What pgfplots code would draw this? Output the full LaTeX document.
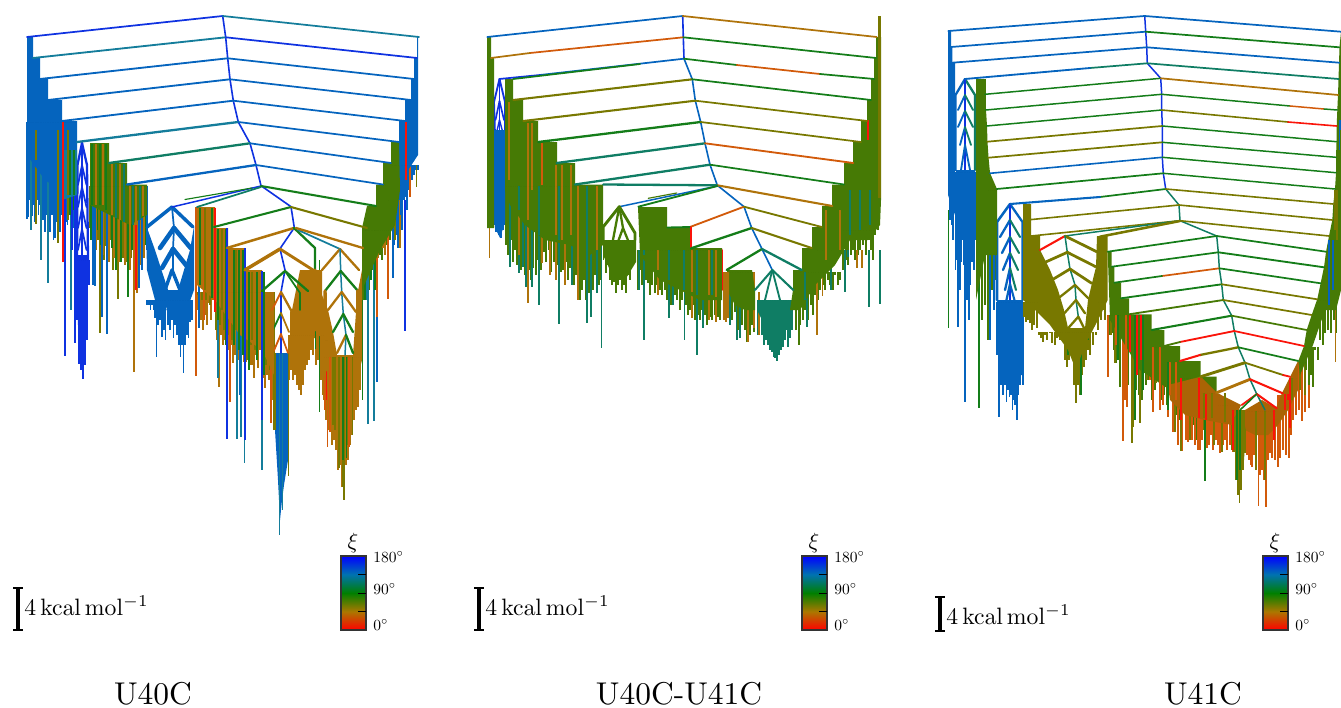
\documentclass[border=0pt]{standalone}
\usepackage{pgfplots}
\pgfplotsset{compat=1.18}
\definecolor{bl}{RGB}{15,50,225}
\definecolor{sb}{RGB}{5,100,190}
\definecolor{tl}{RGB}{20,125,155}
\definecolor{gt}{RGB}{15,125,100}
\definecolor{gr}{RGB}{20,125,25}
\definecolor{og}{RGB}{70,122,5}
\definecolor{ol}{RGB}{120,120,0}
\definecolor{br}{RGB}{175,115,10}
\definecolor{or}{RGB}{210,90,10}
\definecolor{om}{RGB}{170,100,5}
\definecolor{rd}{RGB}{250,20,10}
\pgfdeclareverticalshading{xibar}{100bp}{rgb(0bp)=(1,0,0); rgb(25bp)=(1,0,0); rgb(37.5bp)=(.67,.47,0); rgb(50bp)=(0,.5,0); rgb(62.5bp)=(0,.45,.69); rgb(75bp)=(0,0,1); rgb(100bp)=(0,0,1)}
\newcommand{\seg}[3]{\addplot[#1,line width=1.15*#2pt,line cap=round,line join=round,forget plot,mark=none] coordinates {#3};}
\newcommand{\pol}[2]{\addplot[fill=#1,draw=none,forget plot,mark=none] coordinates {#2} -- cycle;}
\newcommand{\cmb}[4]{\addplot[only marks,mark=*,mark size=0pt,mark options={draw=none,fill=none},forget plot,error bars/.cd,y dir=plus,y explicit,error mark=none,error bar style={solid,draw=#1,line width=#2pt}] table[row sep=\\,x=x,y expr=#3,y error expr=\thisrow{b}-#3] {x b\\ #4};}
\newcommand{\deco}[4]{%
\addplot[black,line width=3.2pt,forget plot] coordinates {(#1,#2)(#1,#3)};
\addplot[black,line width=2.4pt,forget plot] coordinates {(#1-5,#2)(#1+5,#2)};
\addplot[black,line width=2.4pt,forget plot] coordinates {(#1-5,#3)(#1+5,#3)};
\shade[shading=xibar] (axis cs:#4,556) rectangle (axis cs:#4+25,630);
\draw[black!80,line width=1.2pt] (axis cs:#4,556) rectangle (axis cs:#4+25,630);
\addplot[black,line width=.9pt,forget plot] coordinates {(#4+17,574)(#4+25,574)};
\addplot[black,line width=.9pt,forget plot] coordinates {(#4+17,593)(#4+25,593)};
\addplot[black,line width=.9pt,forget plot] coordinates {(#4+17,611)(#4+25,611)};
\node[scale=2.2] at (axis cs:#4+12,543) {$\xi$};
\node[anchor=west,inner sep=0,scale=1.55] at (axis cs:#4+32,557) {$180^\circ$};
\node[anchor=west,inner sep=0,scale=1.55] at (axis cs:#4+32,589) {$90^\circ$};
\node[anchor=west,inner sep=0,scale=1.55] at (axis cs:#4+32,625) {$0^\circ$};
}
\newcommand{\kcal}{$4\,\mathrm{kcal\,mol^{-1}}$}
\begin{document}
\begin{tikzpicture}[x=1pt,y=1pt]
\begin{axis}[scale only axis,width=1341pt,height=707pt,xmin=0,xmax=1341,ymin=0,ymax=707,y dir=reverse,hide axis,clip=true]
\path (axis cs:0,0) rectangle (axis cs:1341,707);
%%%%%%%%%% PANEL 1 U40C
% fingers left
\cmb{sb}{1.6}{122}{27 219\\28.5 217\\30 200\\32 216\\33.5 205\\35 222\\37 200\\38.5 215\\40 205\\43 220\\45 232\\47 215\\50 232\\52 215\\53.5 240\\55 238\\57 222\\60 232\\61.5 215\\64 215\\66 222\\67.5 225\\69 210\\73 228\\75 222\\}
\cmb{tl}{1.3}{122}{31 230\\41 260\\48 283\\71 310\\}
\cmb{ol}{1.3}{122}{36 224\\58 243\\68 220\\}
\cmb{gr}{1.2}{122}{70 215\\74 210\\}
\cmb{rd}{1.3}{122}{63 262\\}
\cmb{bl}{1.5}{122}{65 356\\65.5 308\\75 343\\72 250\\}
\cmb{bl}{1.5}{260}{77 320\\79 364\\81 370\\83 379\\85 365\\87 340\\89 285\\}
\cmb{ol}{1.5}{186}{90 228\\92.5 236\\98 240\\100 333\\104 260\\106 246\\110 240\\113 270\\118 299\\123 258\\126 262\\131 258\\135 250\\138 262\\143 255\\146 238\\}
\cmb{gr}{1.5}{186}{91 240\\94 232\\97 230\\101 245\\108 250\\112 248\\116 270\\121 262\\128 297\\132 250\\140 255\\145 245\\}
\cmb{br}{1.4}{186}{96 250\\103 255\\109 262\\114 258\\119 262\\125 265\\130 270\\134 372\\137 293\\141 265\\144 258\\}
\cmb{sb}{1.3}{186}{93 285\\95 286\\102 317\\107 334\\139 288\\142 270\\147 250\\}
\cmb{rd}{1.3}{186}{136 290\\}
% blue funnel
\seg{bl}{2}{(82,143)(77.5,165)(77,260)}
\seg{bl}{2}{(82,143)(87,165)(88,260)}
\seg{bl}{1.3}{(82,143)(82,260)}
\seg{bl}{1.5}{(82,165)(78,185)} \seg{bl}{1.5}{(82,165)(86.5,185)}
\seg{bl}{1.5}{(82,187)(78,207)} \seg{bl}{1.5}{(82,187)(86.5,207)}
\seg{bl}{1.5}{(82,208)(78,228)} \seg{bl}{1.5}{(82,208)(86.5,228)}
\seg{bl}{1.5}{(82,229)(78,250)} \seg{bl}{1.5}{(82,229)(86.5,250)}
% subtree 1
\cmb{sb}{1.6}{300}{147 305\\149 305\\150.5 310\\152 305\\153.5 310\\155 318\\156.5 357\\158 325\\160 320\\162 337\\164 330\\165.5 340\\168 325\\170 330\\172 320\\173.5 338\\175 325\\177 335\\179 345\\180.5 357\\182 345\\183.5 373\\185 345\\187 335\\188.5 338\\190 322\\192 320\\}
% middle
\cmb{br}{1.5}{292}{197 310\\199 300\\201 320\\203 330\\205 315\\207 325\\209 303\\211 320\\213 300\\217 340\\219 387\\221 335\\223 345\\225 340\\229 350\\231 345\\233 363\\235 355\\236 350\\238 360\\242 345\\244 362\\246 362\\248 350\\250 365\\252 365\\254 378\\256 355\\258 368\\260 350\\263 378\\265 388\\267 375\\269 380\\271 423\\273 400\\}
\cmb{ol}{1.4}{292}{198 295\\202 300\\206 300\\210 305\\216 330\\220 325\\224 330\\228 335\\232 340\\237 345\\241 350\\247 360\\251 345\\255 350\\259 345\\262 360\\266 365\\270 370\\274 430\\}
\cmb{or}{1.3}{207}{196 376\\}
\cmb{sb}{1.3}{207}{199 328\\}
\cmb{tl}{1.3}{229}{218 378\\}
\cmb{tl}{1.3}{250}{237 439\\241 437\\}
\cmb{or}{1.3}{248}{230 402\\}
\cmb{sb}{1.3}{248}{240 395\\}
\cmb{or}{1.3}{300}{271 423\\}
% central
\cmb{br}{1.5}{335}{289 380\\291 370\\293 380\\295 375\\297 385\\299 390\\301 395\\303 385\\305 370\\307 365\\309 360\\311 350\\313 355\\316 365\\318 360\\321 380\\323 395\\}
\cmb{br}{1.5}{357}{324 400\\326 420\\328 430\\330 432\\332 445\\334 440\\336 450\\338 470\\340 465\\342 487\\344 500\\346 465\\348 460\\350 445\\352 435\\354 420\\356 410\\358 407\\360 390\\}
\cmb{gr}{1.3}{260}{319.3 412\\362.3 400\\}
\cmb{or}{1.3}{340}{325 410\\327.3 447\\}
% right of P1
\cmb{og}{1.4}{230}{363 300\\365 285\\367 275\\369 290\\372 270\\374 285\\376 265\\378 258\\380 255\\382 260\\384 248\\386 245\\388 250\\390 240\\}
\cmb{tl}{1.3}{230}{368 424\\374 421\\366 300\\}
\cmb{sb}{1.3}{230}{377 382\\393 278\\}
\cmb{gr}{1.3}{230}{365 300\\371 280\\375 290\\}
\cmb{or}{1.3}{200}{377 317\\388 299\\}
\cmb{bl}{1.4}{200}{405 331\\}
\cmb{br}{1.3}{185}{378 258\\383 248\\400 248\\385 255\\}
\cmb{sb}{1.6}{165}{392 230\\394 245\\396 235\\398 248\\399 200\\401 215\\402 230\\404 200\\405 197\\407 210\\409 190\\412 180\\414 175\\416 170\\418 170\\}
\cmb{ol}{1.3}{165}{395 240\\416.7 187\\}
\cmb{or}{1.3}{150}{410 197\\}
% solid masses over the finger roots
\pol{sb}{(27,37)(33,37)(33,58)(40,58)(40,79)(48,79)(48,100)(62,100)(62,121)(77,121)(77,185)(60,190)(45,180)(27,155)}
\pol{tl}{(62,150)(77,150)(77,195)(62,200)}
\pol{og}{(90,143)(109,143)(109,163)(127,163)(127,184.5)(147,184.5)(147,215)(130,225)(110,215)(90,205)}
\pol{bl}{(76,255)(88,255)(87,325)(85,350)(83,365)(81,350)(78,325)}
\pol{sb}{(146,225)(155,250)(168,290)(178,290)(190,250)(194,226)(194,290)(185,315)(170,310)(155,300)(147,270)}
\pol{br}{(197,207)(215,207)(215,228)(228,228)(228,248)(245,248)(245,270)(262,270)(262,292)(274,292)(274,375)(262,350)(240,335)(215,300)(197,285)}
\pol{br}{(290,320)(300,270)(312,270)(322,270)(322,335)(310,340)(302,370)(294,355)}
\pol{br}{(320,290)(328,310)(333,332)(337,355)(353,355)(356,312)(358,291)(362,270)(362,360)(352,400)(347,430)(344,450)(340,430)(330,400)(322,365)}
\pol{sb}{(275,353)(288,353)(288,460)(284,485)(282,500)(280,520)(278,480)(275,430)}
\pol{sb}{(418,37)(417,37)(417,58)(414,58)(414,79)(411,79)(411,100)(405,100)(405,121)(399,121)(399,165)(405,175)(418,155)}
\pol{og}{(399,142)(391,142)(391,163)(383,163)(383,184.5)(376,184.5)(376,206)(367,206)(362,228)(362,290)(380,250)(395,225)(400,190)}
% streaks over the masses
\cmb{rd}{1.3}{122}{63 200\\406 180\\}
\cmb{ol}{1.3}{130}{58 190\\36 160\\68 195\\}
\cmb{gr}{1.2}{150}{74 195\\70 195\\}
\cmb{gr}{1.3}{144}{92 205\\100 205\\106 210\\}
\cmb{br}{1.3}{144}{96 205\\103 205\\}
\cmb{br}{1.3}{164}{112 215\\120 220\\}
\cmb{gt}{1.3}{164}{116 218\\124 222\\}
\cmb{br}{1.3}{186}{130 225\\136 225\\143 216\\}
\cmb{gt}{1.3}{186}{133 225\\140 220\\}
\cmb{gr}{1.3}{208}{200 285\\212 298\\}
\cmb{or}{1.3}{208}{204 320\\}
\cmb{ol}{1.3}{208}{205 290\\}
\cmb{gr}{1.3}{229}{218 320\\226 345\\}
\cmb{ol}{1.3}{229}{222 310\\}
\cmb{rd}{1.3}{208}{215 312\\}
\cmb{gr}{1.3}{250}{234 345\\239 350\\243 355\\}
\cmb{ol}{1.3}{250}{236 330\\}
\cmb{bl}{2}{228}{227 439\\}
\cmb{tl}{1.3}{248}{244.5 463\\}
\cmb{bl}{1.6}{248}{245 440\\}
\cmb{tl}{1.3}{271}{262 470\\}
\cmb{bl}{1.6}{271}{262 420\\}
\cmb{gr}{1.3}{272}{249 370\\257 360\\264 375\\}
\cmb{ol}{1.3}{272}{252 340\\}
\cmb{tl}{1.3}{353}{279.5 535\\282.7 510\\}
\cmb{ol}{1.3}{353}{288.7 476\\275 430\\}
\cmb{gr}{1.3}{260}{315.7 349\\}
\cmb{ol}{1.3}{357}{339 468\\342.7 487\\344 500\\352.7 435\\335 430\\333 425\\347 445\\}
\cmb{gr}{1.3}{357}{346.7 458\\343 460\\}
\cmb{or}{1.3}{357}{330 432\\349 447\\}
\cmb{rd}{1.2}{340}{326.5 400\\}
% subtree chevrons
\seg{sb}{3}{(172,207)(147,227)}\seg{sb}{3}{(172,207)(193,227)}
\seg{sb}{4}{(174,228)(160,248)}\seg{sb}{4}{(174,228)(190.7,248)}
\seg{sb}{4}{(173,249)(162,268)}\seg{sb}{4}{(173,249)(190,270)}
\seg{sb}{1.5}{(172,207)(174,228)(173,249)(173,270)}
\seg{sb}{3}{(172,270)(165,290)}\seg{sb}{3}{(172,270)(180,290)}
\seg{sb}{3}{(173,293)(168,310)}\seg{sb}{3}{(173,293)(178,310)}
% tree
\seg{bl}{1.4}{(222.7,16)(225.7,37.3)(227.7,58.3)(230,79.3)(233.3,100.7)(238.3,122)(250,143.3)(256,165)(261,185.7)(291,206.7)(294.3,227.7)(280,248.7)(285,270)(281,292)(281,313)(281,334)(281,353)}
\seg{bl}{1.5}{(222.7,16)(27,37)}
\seg{tl}{1.5}{(222.7,16)(419,37)}
\seg{tl}{1.6}{(225.7,37.3)(33,58)}\seg{bl}{1.5}{(225.7,37.3)(417,58)}
\seg{sb}{1.6}{(227.7,58.3)(40,79)}\seg{sb}{1.5}{(227.7,58.3)(414,79)}
\seg{sb}{1.6}{(230,79.3)(48,100)}\seg{sb}{1.5}{(230,79.3)(411,100)}
\seg{sb}{1.6}{(233.3,100.7)(62,121)}\seg{sb}{1.5}{(233.3,100.7)(405,121)}
\seg{tl}{2}{(238.3,122)(77,142)}\seg{sb}{1.5}{(238.3,122)(399,142)}
\seg{gt}{2}{(250,143.3)(109,163)}\seg{sb}{1.5}{(250,143.3)(391,163)}
\seg{sb}{2}{(256,165)(127,184.5)}\seg{sb}{1.5}{(256,165)(383,184.5)}
\seg{bl}{1.3}{(261,186)(172,207)}
\seg{gr}{1}{(252,188)(185,199.5)}
\seg{gt}{1.5}{(261,187)(197,207)}
\seg{gr}{1.8}{(261,186)(376,206)}
\seg{gr}{1.8}{(291,207)(214,227)}\seg{ol}{1.8}{(291,207)(367,228)}
\seg{br}{2.2}{(294,228)(227,248)}
\seg{gr}{2}{(294,228)(315,248)(315,270)}
\seg{tl}{1.5}{(298,230)(340,249)}
\seg{br}{2}{(296,228)(363,248)}
\seg{br}{3}{(280,249)(245,270)}\seg{br}{2.5}{(280,249)(313,270)}
\seg{gr}{2}{(285,271)(262,291)}\seg{gr}{2}{(285,271)(308,291)}
\seg{gr}{1.5}{(285,271)(300,293)(300,310)}
\seg{or}{1.6}{(281,292)(271,312)}\seg{br}{2}{(281,292)(292,312)}
\seg{gr}{1.6}{(281,313)(272,332)}\seg{br}{1.5}{(281,313)(289,332)}
\seg{or}{1.6}{(281,334)(272,355)}\seg{or}{1.5}{(281,334)(288,353)}
\seg{br}{3}{(272,312)(272,355)}\seg{br}{3}{(292,312)(292,340)}
\seg{br}{3}{(315,270)(316,330)}
\seg{br}{2}{(340,249)(322,270)}\seg{br}{2}{(340,249)(359,270)}
\seg{tl}{1.3}{(340,249)(340.7,271)(341.7,292)(343.3,314)(346,335)(345,355)}
\seg{gr}{2}{(340.7,271)(325,291)}\seg{gr}{2}{(340.7,271)(358,291)}
\seg{br}{2}{(341.7,292)(328,310)}\seg{br}{2}{(341.7,292)(356,312)}
\seg{gr}{2}{(343.3,314)(333,332)}\seg{gr}{2}{(343.3,314)(353,332)}
\seg{br}{2}{(346,335)(337,353)}\seg{gr}{2}{(346,335)(353,353)}
\seg{br}{3}{(325,291)(326,370)}\seg{br}{3}{(358,291)(358,370)}
%%%%%%%%%% PANEL 2
% fingers P2
\cmb{gt}{1.3}{200}{487.3 226\\}
\cmb{br}{1.3}{160}{489.5 258\\}
\cmb{sb}{1.5}{130}{494.5 225\\496 232\\497.5 228\\499 235\\501 238\\503 230\\505 225\\}
\cmb{og}{1.5}{186}{506 245\\508 255\\511 240\\513 262\\515 250\\517 265\\520 258\\521 270\\524 255\\525 275\\529 270\\531 280\\533 268\\536 275\\538 260\\541 270\\544 252\\546 262\\549 250\\551 272\\554 262\\556 278\\558 265\\561 272\\563 270\\566 262\\568 280\\570 268\\574 285\\576 275\\580 300\\582 290\\584 280\\586 300\\589 293\\593 290\\595 275\\599 285\\601 280\\}
\cmb{gt}{1.3}{186}{510 267\\519 273\\523 267\\526 287\\532 287\\539 305\\559 324\\572 285\\587 323\\591 317\\597 293\\601.7 348\\}
\cmb{br}{1.3}{186}{528 303\\519 255\\565 285\\556 280\\578 300\\542 263\\550 275\\}
\cmb{og}{1.5}{240}{603.5 260\\606 273\\608 265\\610 280\\612 285\\614 282\\616 293\\618 285\\620 280\\622 290\\624 285\\626 293\\628 275\\630 280\\632 265\\635 262\\}
\cmb{og}{1.5}{250}{638 290\\640 270\\642 285\\646 280\\648 283\\650 295\\652 285\\655 293\\657 285\\660 290\\662 295\\665 290\\667 300\\671 305\\675 295\\677 300\\680 310\\682 300\\686 305\\688 315\\690 310\\693 305\\695 320\\699 315\\700 320\\702 310\\705 315\\707 325\\710 317\\712 320\\715 315\\718 317\\720 320\\}
\cmb{gt}{1.4}{250}{644 340\\639 290\\669 318\\673 305\\684.3 340\\697 355\\703 328\\}
\cmb{br}{1.3}{250}{658 295\\692 318\\709 320\\716 322\\}
\cmb{gt}{1.3}{272}{730 325\\737 340\\740 338\\}
\cmb{og}{1.4}{272}{728 310\\732 320\\735 312\\738 330\\742 325\\745 330\\747 342\\750 335\\752 325\\754 332\\}
\cmb{br}{1.5}{272}{724 320\\726 322\\728 318\\748 342\\754 328\\}
\cmb{gt}{1.5}{300}{758 335\\762 335\\764 345\\766 340\\768 345\\770 350\\772 352\\774 357\\775 358\\777 361\\779 355\\781 350\\783 347\\785 340\\786 330\\788 347\\790 338\\792 330\\}
\cmb{br}{1.3}{292}{759 335\\}
\cmb{og}{1.5}{272}{796 330\\799 345\\800 325\\803 320\\805 310\\808 320\\811 305\\813 315\\815 295\\818 300\\820 290\\823 285\\825 290\\828 280\\830 285\\833 290\\835 275\\838 285\\840 280\\}
\cmb{og}{1.5}{230}{843 270\\846 260\\848 265\\851 255\\853 250\\855 260\\858 255\\860 250\\863 245\\866 255\\869 240\\871 250\\873 260\\875 235\\878 225\\}
\cmb{gt}{1.3}{250}{831 290\\845 292\\848 257\\869 307\\880 304\\807 327\\}
\cmb{br}{1.3}{250}{822.3 296\\857 268\\862 268\\817 335\\}
% P2 funnel
\seg{bl}{1.6}{(499.5,79)(494,102)(495,135)}\seg{bl}{1.6}{(499.5,79)(505,102)(505,135)}
\seg{bl}{1.4}{(499.5,79)(499.5,135)}
\seg{bl}{1.4}{(499.5,101)(495.5,120)}\seg{bl}{1.4}{(499.5,101)(504,120)}
\seg{bl}{1.2}{(499.5,120)(496,135)}\seg{bl}{1.2}{(499.5,120)(503.5,135)}
% P2 masses
\pol{og}{(487,37)(491,37)(491,58)(494,58)(494,228)(487,228)}
\pol{sb}{(494,130)(505,130)(505,222)(500,238)(495,228)}
\pol{og}{(505,79)(513,79)(513,100)(523,100)(523,121)(538,121)(538,142)(557,142)(557,163)(575,163)(575,184.5)(603,184.5)(603,245)(590,255)(570,245)(545,240)(525,225)(510,205)(505,190)}
\pol{og}{(603,240)(636,240)(636,262)(625,280)(610,270)(603,255)}
\pol{og}{(638,207)(667,207)(667,227)(691,227)(691,248)(722,248)(722,300)(700,300)(680,290)(660,280)(640,255)}
\pol{og}{(727,270)(752,270)(755,290)(755,310)(745,310)(735,305)(727,290)}
\pol{og}{(793,290)(793,270)(802,270)(802,248)(812,248)(812,227)(822,227)(822,206)(832,206)(832,184.5)(844,184.5)(844,163)(853,163)(853,142)(861,142)(861,121)(867,121)(867,100)(871,100)(871,79)(874,79)(874,58)(876,58)(876,37)(878,37)(881,37)(881,200)(880,225)(868,240)(850,240)(835,265)(815,285)(800,310)(790,310)}
\pol{gt}{(757,300)(790,300)(788,320)(783,335)(777,352)(771,335)(762,320)(757,310)}
\pol{ol}{(877.5,16)(881,16)(881,198)(877.5,198)}
\pol{br}{(724,272)(729,272)(729,300)(726,320)(723,300)}
% P2 streaks
\cmb{br}{1.2}{102}{509 180\\}
\cmb{br}{1.2}{123}{532 190\\528 220\\}
\cmb{or}{1.2}{143}{542 185\\}
\cmb{br}{1.2}{165}{562 240\\571 235\\556 235\\}
\cmb{gt}{1.2}{186}{519 210\\539 235\\559 240\\587 255\\}
\cmb{br}{1.2}{186}{578 250\\597 250\\}
\cmb{gt}{1.2}{250}{644 255\\669 280\\684 290\\697 295\\712 295\\}
\cmb{br}{1.2}{250}{658 270\\692 292\\709 295\\716 297\\}
\cmb{rd}{1.1}{120}{868 140\\}
\cmb{gt}{1.2}{190}{850 235\\860 230\\870 225\\}
\cmb{br}{1.2}{210}{826 260\\840 250\\}
\cmb{gt}{1.2}{272}{805 300\\}
% P2 tree
\seg{bl}{1.4}{(682.7,16)(683.3,37.3)(684,58.7)}
\seg{sb}{1.4}{(684,58.7)(692.3,79.3)(695.3,100.7)(700.7,122)(705,143.3)(710,164.7)(717.3,185.3)(744,206.7)(751.7,228)(762,249)(772.3,270)}
\seg{sb}{1.5}{(682.7,16)(487.3,37)}
\seg{br}{1.5}{(682.7,16)(876.7,37)}
\seg{or}{1.5}{(683.3,37.3)(530,53)}\seg{br}{1.5}{(530,53)(491,58)}
\seg{gr}{1.5}{(683.3,37.3)(876,58)}
\seg{sb}{1.5}{(684,58.7)(540,75)}\seg{bl}{1.5}{(540,75)(499.3,79)}
\seg{gr}{1.5}{(684,58.7)(736.7,65)}\seg{or}{1.5}{(736.7,65)(820,74)}\seg{gr}{1.5}{(820,74)(874.3,79)}
\seg{gr}{1.5}{(640,64)(513.3,79)}
\seg{ol}{1.8}{(692.3,79.3)(513.3,100)}\seg{gr}{1.5}{(692.3,79.3)(871,100)}
\seg{ol}{1.8}{(695.3,100.7)(523.3,121)}\seg{ol}{1.5}{(695.3,100.7)(867.3,121)}
\seg{gr}{2}{(700.7,122)(538.3,142)}\seg{ol}{1.5}{(700.7,122)(861,142)}
\seg{gt}{2}{(705,143.3)(556.7,163)}\seg{or}{1.6}{(705,143.3)(853.3,163)}
\seg{gt}{2}{(710,164.7)(575,184.5)}\seg{gr}{1.5}{(710,164.7)(844,184.5)}
\seg{gt}{2}{(717.3,185.3)(603.3,184.5)}
\seg{br}{1.8}{(717.3,185.3)(832.3,206)}
\seg{sb}{1.3}{(717.3,186)(619.3,206.7)}
\seg{og}{1}{(676.7,193)(648.3,198.3)}
\seg{gr}{1.6}{(717.3,186)(638.3,206.7)}
\seg{or}{1.6}{(744,206.7)(690,227)}\seg{gr}{1.6}{(690,227)(667.3,227.5)}
\seg{ol}{1.6}{(744,206.7)(821.7,227)}
\seg{rd}{1.3}{(691,227)(691,248)}
\seg{gr}{2}{(751.7,228)(691,248.3)}\seg{ol}{1.8}{(751.7,228)(811.7,248)}
\seg{gr}{2}{(762,249)(726.7,270)}\seg{gt}{2}{(762,249)(801.7,270)}
\seg{rd}{1.2}{(722.5,250)(722.5,290)}
\seg{gt}{1.8}{(772.3,270)(755,290)}\seg{gt}{1.8}{(772.3,270)(793.3,290)}
\seg{gt}{1.6}{(772.3,270)(780,300)}\seg{gt}{1.6}{(772.3,270)(765,300)}
\seg{og}{2.5}{(619.3,206.7)(603.3,226.7)(603.3,240)}\seg{og}{2.5}{(619.3,206.7)(635,233)(635,240)}
\seg{og}{2}{(619.3,206.7)(612,245)}\seg{og}{2}{(619.3,206.7)(623,228)(615,250)}\seg{og}{2}{(623,228)(632,250)}
%%%%%%%%%% PANEL 3
\cmb{gr}{1.2}{210}{948.3 328\\}
\cmb{sb}{1.6}{172}{950 220\\952 225\\953 240\\955.5 270\\957 260\\958 327\\960 290\\961.5 262\\962 240\\964 265\\965 402\\967 300\\969 320\\970.5 285\\972 262\\974 270\\975.5 240\\}
\cmb{gr}{2.5}{79}{979 408\\}
\cmb{og}{1.8}{79}{982 320\\985 305\\}
\cmb{og}{1.8}{190}{988 340\\992 290\\996 280\\}
\cmb{sb}{1.3}{190}{990 340\\994 310\\}
\cmb{sb}{1.7}{302}{997 355\\999 417\\1001 385\\1003 395\\1005 385\\1006.5 402\\1008 390\\1009.5 397\\1011 395\\1012.5 410\\1014 400\\1015 405\\1017 420\\1018.5 395\\1020 385\\1023 385\\}
\cmb{ol}{1.7}{302}{1024 317\\1026 322\\1028 320\\1030 323\\1032 330\\1034 325\\1037 328\\1098 330\\1101 320\\1103 310\\1105 320\\}
\cmb{ol}{1.7}{332}{1039 335\\1041 338\\1043 342\\1045 335\\1047 340\\1050 333\\1052 343\\1055 345\\1057 338\\1060 340\\1062 335\\1065 360\\1067 367\\1069 360\\1072 357\\1074 385\\1076 403\\1078 385\\1080 395\\1082 375\\1084 367\\1086 360\\1088 350\\1090 355\\1093 345\\1096 335\\}
\cmb{gr}{1.2}{332}{1081 395\\1088 340\\1068 355\\}
% big tree fingers
\cmb{og}{1.6}{315}{1108 345\\1110 335\\1112 333\\1114 350\\1116 363\\1118 360\\1120 387\\1124 370\\1128 385\\1134 400\\1136 390\\1139 395\\1142 400\\1146 385\\1149 380\\}
\cmb{og}{1.6}{347}{1152 400\\1155 390\\1158 380\\1161 400\\1164 395\\}
\cmb{og}{1.6}{362}{1167 405\\1170 395\\1174 410\\1177 415\\}
\cmb{og}{1.6}{378}{1180 420\\1184 410\\1187 430\\1190 435\\1194 425\\1197 440\\}
\cmb{or}{1.6}{315}{1107.7 377\\1122.7 441\\1125 400\\1127 407\\}
\cmb{or}{1.6}{347}{1150 380\\1153 412\\1160 410\\1163 405\\}
\cmb{or}{1.6}{362}{1168 417\\1173 432\\1178 445\\}
\cmb{or}{1.6}{378}{1182 451\\1186 440\\1188 442\\1192 440\\1195 445\\1198 450\\1200 450\\}
\cmb{or}{1.6}{393}{1202 440\\1207 448\\1209 445\\1211 435\\1213 450\\1216 440\\}
\cmb{or}{1.6}{405}{1218 445\\1220 453\\1223 445\\1225 440\\1227 450\\1230 445\\1233 452\\1238 455\\}
\cmb{ol}{1.4}{315}{1111 335\\1115 363\\1132 443\\1133 427\\1140 423\\1147 380\\}
\cmb{ol}{1.4}{347}{1156 383\\}
\cmb{ol}{1.4}{362}{1175 432\\}
\cmb{ol}{1.4}{378}{1181 451\\1190 440\\}
\cmb{ol}{1.4}{393}{1204 430\\1214 445\\}
\cmb{ol}{1.4}{405}{1222 452\\}
\cmb{ol}{1.6}{410}{1232 450\\1234 452\\1236 480\\1238 495\\1239.3 503\\1241 490\\1243 470\\1245 453\\}
\cmb{gr}{1.2}{393}{1205 481\\}
\cmb{or}{1.6}{411}{1247 455\\1249 460\\1251 465\\1252 467\\1254 455\\1256 470\\1258.3 506\\1260 475\\1262 470\\1264 480\\1266 507\\1268 460\\1270 453\\1272 458\\1275 460\\}
\cmb{or}{1.6}{395}{1278 467\\1280 458\\1283 450\\1286 455\\1289 458\\}
\cmb{or}{1.6}{378}{1291 435\\1293 420\\1296 415\\}
\cmb{or}{1.6}{362}{1299 410\\1302 421\\1305 412\\1309 408\\}
\cmb{ol}{1.3}{362}{1300 390\\1305 395\\}
\cmb{og}{1.5}{347}{1306 370\\1309 385\\1311 375\\1313 387\\1315 350\\1318 360\\}
\cmb{og}{1.5}{300}{1320 340\\1323 345\\1325 333\\1328 330\\1331 333\\1334 320\\1336 333\\1338 300\\}
\cmb{br}{1.2}{240}{1335.7 362\\}
% P3 funnels
\seg{sb}{2}{(965,79)(955.5,95)(955.5,170)}\seg{gt}{2}{(965,79)(975,95)(975,170)}
\seg{bl}{1.3}{(965,79)(965,180)}
\seg{sb}{1.6}{(965,95)(958,110)}\seg{gt}{1.6}{(965,95)(973,110)}
\seg{sb}{1.6}{(965,111)(958,127)}\seg{gt}{1.6}{(965,111)(973,127)}
\seg{sb}{1.6}{(965,127)(960,145)}\seg{gt}{1.6}{(965,127)(971,145)}
\seg{sb}{1.6}{(965,145)(961,170)}\seg{sb}{1.6}{(965,145)(970,170)}
\seg{sb}{2.2}{(1010,204)(997,222)(997,300)}\seg{sb}{2}{(1010,204)(1022.5,222)(1022.5,300)}
\seg{bl}{1.3}{(1010,204)(1010,300)}
\seg{sb}{2}{(1010,220)(1000,237)}\seg{gt}{1.8}{(1010,220)(1020,237)}
\seg{sb}{2}{(1010,237)(1002,253)}\seg{gt}{1.8}{(1010,237)(1019,253)}
\seg{sb}{2}{(1010,253)(1003,270)}\seg{gt}{1.8}{(1010,253)(1018,270)}
\seg{sb}{2}{(1010,268)(1005,290)}\seg{gt}{1.8}{(1010,268)(1016,290)}
\seg{sb}{2}{(1010,284)(1006,302)}\seg{sb}{1.8}{(1010,284)(1015,302)}
% P3 masses
\pol{sb}{(948,31)(951,31)(951,47)(952.3,47)(952.3,63)(955,63)(955,215)(948,195)}
\pol{og}{(976,79)(985,79)(985,94)(986,110)(987,126)(987.5,142)(988.5,157)(990,173)(997,189)(997,255)(985,255)(976,300)}
\pol{ol}{(1023,204)(1031,204)(1031,236)(1040,236)(1040,250)(1050,270)(1058,290)(1064,310)(1068,328)(1085,328)(1088,300)(1092,283)(1096,267)(1097,236)(1107.7,236)(1107.7,300)(1098,320)(1085,345)(1076,370)(1068,350)(1050,325)(1035,310)(1023,300)}
\pol{sb}{(997,300)(1023,300)(1022,375)(1000,375)}
\pol{sb}{(956,170)(975,170)(975,215)(957,215)}
\pol{og}{(1107.7,251.7)(1111.7,251.7)(1111.7,266.7)(1114.3,266.7)(1114.3,282.7)(1121,282.7)(1121,298.3)(1129,298.3)(1129,314.3)(1151.7,314.3)(1151.7,330)(1164.3,330)(1164.3,346)(1180,346)(1180,361)(1200.7,361)(1200.7,376.7)(1216.7,376.7)(1216.7,392.7)(1216,400)(1170,390)(1140,370)(1125,345)(1110,320)}
\pol{om}{(1168,385)(1200.7,376.7)(1216.7,392.7)(1241,405)(1232,425)(1205,420)(1185,415)(1170,400)}
\pol{om}{(1245,410)(1262,400)(1276,408)(1282,393)(1290,377)(1298,361)(1298,390)(1288,410)(1278,425)(1268,435)(1255,435)(1245,430)}
\pol{ol}{(1232,420)(1240,410)(1246,430)(1244,460)(1240,480)(1236,460)}
\pol{og}{(1341,32)(1339.5,47)(1339,63)(1338.5,79)(1338,95)(1337.3,110)(1336.7,126)(1336.5,142)(1336,157)(1336,173)(1335,189)(1333.3,204)(1332.3,220)(1329,236)(1326,252)(1324,267)(1320.7,283)(1317.3,299)(1311.7,315)(1306.7,330)(1304,346)(1298.3,361)(1300,375)(1313,345)(1325,310)(1336,310)(1341,290)}
% P3 streaks
\cmb{or}{1.3}{315}{1116 345\\1126 355\\1108 335\\}
\cmb{rd}{1.4}{315}{1130 352\\1137 375\\1141 360\\}
\cmb{or}{1.3}{347}{1153 385\\1160 390\\}
\cmb{or}{1.3}{362}{1170 395\\1176 400\\}
\cmb{rd}{1.4}{378}{1181 420\\1199 418\\1290 428\\}
\cmb{ol}{1.3}{393}{1204 418\\1212 418\\1225 422\\}
\cmb{rd}{1.4}{394}{1206 420\\1288 400\\1285 410\\}
\cmb{rd}{1.4}{410}{1233 450\\1274 440\\}
\cmb{gr}{1.2}{315}{1118 360\\1135 420\\1143 390\\}
\cmb{gr}{1.2}{362}{1168 410\\}
\cmb{gr}{1.2}{410}{1240 470\\1237 480\\}
\cmb{ol}{1.3}{411}{1256 470\\1265 480\\}
\cmb{ol}{1.3}{378}{1292 400\\}
\cmb{sb}{1.4}{240}{1333 290\\1329 305\\}
\cmb{sb}{1.4}{120}{1339.5 150\\1341 130\\}
\cmb{ol}{1.5}{190}{1338 190\\1337 240\\1335 230\\}
% P3 tree
\seg{bl}{1.3}{(1144.7,16)(1145.7,31.7)(1146.7,47.3)(1147.3,63.3)(1160.7,78.3)(1161.7,94.3)(1161.7,110)(1162.3,126)(1162.3,142.3)(1162.3,157.3)(1163.3,173.3)(1165.7,189)}
\seg{gt}{1.3}{(1165.7,189)(1179,205)(1180,220.7)(1216.7,236)(1218.3,252.3)(1219.3,268.3)(1221.7,284.3)(1223.3,300)(1231.7,315.7)(1234.3,331)(1238.3,347.3)(1245,362.7)(1250,379.3)(1256.7,394)(1265,410)}
\seg{sb}{1.5}{(1144.7,16)(948.3,31)}\seg{sb}{1.5}{(1144.7,16)(1341,31.7)}
\seg{sb}{1.5}{(1145.7,31.7)(951,47)}
\seg{gr}{1.5}{(1145.7,31.7)(1339.3,47.3)}
\seg{sb}{1.5}{(1146.7,47.3)(952.3,62.7)}\seg{sb}{1.5}{(1146.7,47.3)(1339.3,62.7)}
\seg{gt}{1.5}{(1147.3,63.3)(1090,68)}\seg{sb}{1.6}{(1090,68)(965,79)}\seg{gt}{1.5}{(1147.3,63.3)(1338.7,79)}
\seg{gr}{1.3}{(1160.7,78.3)(985,94.3)}\seg{br}{1.5}{(1160.7,78.3)(1338.3,95)}
\seg{gr}{1.3}{(1161.7,94.3)(985.7,110)}\seg{gr}{1.3}{(1161.7,94.3)(1290,106)}\seg{or}{1.3}{(1290,106)(1324,109)}\seg{gr}{1.3}{(1324,109)(1337.3,110)}
\seg{gr}{1.3}{(1161.7,110)(986.7,126)}\seg{ol}{1.4}{(1161.7,110)(1288,122)}\seg{rd}{1.4}{(1288,122)(1336.7,126)}
\seg{ol}{1.5}{(1162.3,126)(987.3,141.7)}\seg{gr}{1.3}{(1162.3,126)(1336.7,141.7)}
\seg{ol}{1.5}{(1162.3,142.3)(988.3,157.7)}\seg{gr}{1.3}{(1162.3,142.3)(1336,157.3)}
\seg{sb}{1.4}{(1162.3,157.3)(990,173.3)}\seg{gr}{1.3}{(1162.3,157.3)(1336,172.7)}
\seg{gr}{1.5}{(1163.3,173.3)(996.7,189)}\seg{gr}{1.3}{(1163.3,173.3)(1335,189)}
\seg{gr}{1.5}{(1165.7,189)(1100,197)}\seg{sb}{1.8}{(1100,197)(1010,204)}\seg{ol}{1.4}{(1165.7,189)(1333.3,204)}
\seg{ol}{1.4}{(1179,205)(1026.7,220)}\seg{ol}{1.4}{(1179,205)(1332.3,220)}
\seg{ol}{1.4}{(1180,220.7)(1031,236)}\seg{ol}{1.4}{(1180,220.7)(1329,236)}
\seg{gt}{1.3}{(1180,220.7)(1065,236)}
\seg{ol}{2.2}{(1180,221)(1100,236.7)}
\seg{gr}{1.5}{(1216.7,236)(1107.7,251.7)}\seg{gr}{1.5}{(1216.7,236)(1326,251.7)}
\seg{gr}{1.5}{(1218.3,252.3)(1111.7,266.7)}\seg{gr}{1.6}{(1218.3,252.3)(1324,267.3)}
\seg{or}{1.5}{(1219.3,268.3)(1162,276)}\seg{gr}{1.5}{(1162,276)(1114.3,282.7)}\seg{gr}{1.5}{(1219.3,268.3)(1320.7,283.3)}
\seg{gr}{1.6}{(1221.7,284.3)(1121,298.3)}\seg{ol}{1.5}{(1221.7,284.3)(1317.3,299.3)}
\seg{og}{1.6}{(1223.3,300)(1129,314.3)}\seg{ol}{1.5}{(1223.3,300)(1311.7,315)}
\seg{gr}{1.8}{(1231.7,315.7)(1151.7,330)}\seg{og}{1.5}{(1231.7,315.7)(1306.7,330)}
\seg{rd}{1.6}{(1234.3,331)(1180,342)}\seg{og}{1.6}{(1180,342)(1164.3,346)}\seg{rd}{1.5}{(1234.3,331)(1304,346)}
\seg{ol}{2}{(1238.3,347.3)(1200,355)}\seg{rd}{1.8}{(1200,355)(1180,361)}\seg{gr}{1.5}{(1238.3,347.3)(1298.3,361)}
\seg{ol}{2.5}{(1245,362.7)(1200.7,376.7)}\seg{ol}{1.6}{(1245,362.7)(1283,375)}\seg{rd}{1.6}{(1283,375)(1290,376.7)}
\seg{br}{2.5}{(1250,379.3)(1216.7,392.7)}\seg{rd}{1.8}{(1250,379.3)(1282.7,393.3)}
\seg{rd}{1.5}{(1256.7,394)(1241.7,405)}\seg{rd}{1.8}{(1256.7,394)(1276.7,408.3)}
\seg{gr}{1.4}{(1256.7,394)(1240,410)}
\seg{rd}{1.8}{(1065,236)(1040,250)}\seg{ol}{2.4}{(1065,236)(1096.7,251.7)}
\seg{gt}{1.3}{(1065,236)(1067.3,252.3)(1070,269)(1075,285)(1076,300)(1078.3,316.7)}
\seg{ol}{2.4}{(1067.3,252.3)(1039,265)}\seg{ol}{2.4}{(1067.3,252.3)(1095.7,266.7)}
\seg{ol}{2.4}{(1070,269)(1049,281.7)}\seg{ol}{2.4}{(1070,269)(1091.7,283.3)}
\seg{ol}{2}{(1075,285)(1058.3,298.3)}\seg{ol}{2}{(1075,285)(1088.3,298.3)}
\seg{ol}{2}{(1076,300)(1064.3,313.3)}\seg{ol}{2}{(1076,300)(1085,313.3)}
\seg{ol}{2}{(1078.3,316.7)(1068.3,328)}\seg{ol}{2}{(1078.3,316.7)(1084,328)}
%%%%%%%%%% decorations
\deco{18}{588}{630}{341}
\deco{479}{588}{630}{802}
\deco{940}{597}{631}{1263}
\node[anchor=base west,inner sep=0,scale=2.37] at (axis cs:24,615) {\kcal};
\node[anchor=base west,inner sep=0,scale=2.37] at (axis cs:485,615) {\kcal};
\node[anchor=base west,inner sep=0,scale=2.37] at (axis cs:946,624) {\kcal};
\node[anchor=base,inner sep=0,scale=3.15] at (axis cs:153,704) {U40C};
\node[anchor=base,inner sep=0,scale=3.15] at (axis cs:679,704) {U40C-U41C};
\node[anchor=base,inner sep=0,scale=3.15] at (axis cs:1203,704) {U41C};
\end{axis}
\end{tikzpicture}
\end{document}
